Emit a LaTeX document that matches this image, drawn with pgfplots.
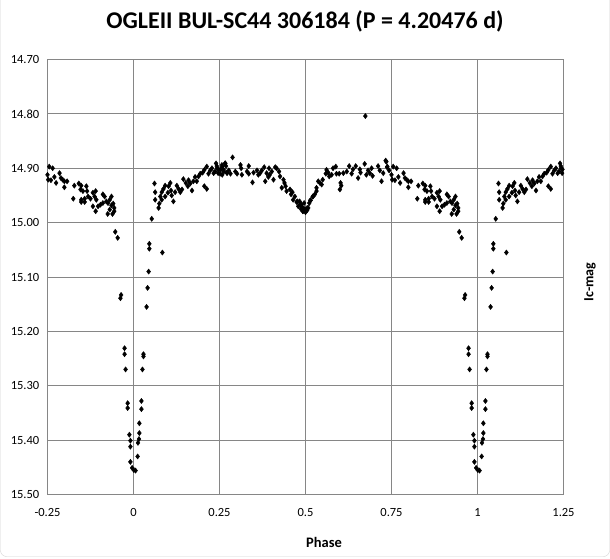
\documentclass[border=0pt]{standalone}
\usepackage{fontspec}
\setmainfont{Carlito}
\usepackage{pgfplots}
\pgfplotsset{compat=1.18}
\usepackage{pgfplotstable}
\definecolor{gridgray}{HTML}{868686}
\pgfplotstableread{
p m
0.001 15.455
0.006 15.456
0.012 15.430
0.013 15.405
0.016 15.398
0.017 15.387
0.017 15.369
0.023 15.343
0.023 15.328
0.026 15.270
0.029 15.242
0.029 15.246
0.038 15.155
0.041 15.120
0.044 15.090
0.046 15.048
0.046 15.039
0.084 15.055
0.053 14.993
0.061 14.928
0.063 14.944
0.063 14.958
0.073 14.973
0.075 14.965
0.078 14.952
0.082 14.944
0.082 14.958
0.087 14.938
0.092 14.952
0.092 14.932
0.100 14.945
0.102 14.933
0.107 14.927
0.109 14.941
0.111 14.950
0.116 14.961
0.121 14.944
0.126 14.932
0.131 14.938
0.136 14.944
0.141 14.939
0.145 14.920
0.152 14.927
0.158 14.933
0.160 14.922
0.170 14.941
0.165 14.928
0.174 14.924
0.179 14.916
0.184 14.924
0.189 14.915
0.194 14.910
0.201 14.908
0.206 14.933
0.213 14.938
0.206 14.903
0.213 14.897
0.218 14.910
0.223 14.904
0.228 14.900
0.233 14.909
0.237 14.906
0.242 14.896
0.247 14.902
0.252 14.910
0.257 14.894
0.262 14.903
0.266 14.891
0.271 14.908
0.240 14.891
0.243 14.900
0.246 14.909
0.253 14.903
0.258 14.897
0.258 14.912
0.263 14.906
0.267 14.891
0.269 14.896
0.272 14.909
0.277 14.904
0.282 14.910
0.288 14.880
0.296 14.906
0.301 14.910
0.311 14.894
0.313 14.900
0.315 14.912
0.330 14.906
0.335 14.896
0.335 14.910
0.346 14.926
0.349 14.908
0.359 14.904
0.363 14.912
0.368 14.909
0.373 14.904
0.380 14.898
0.383 14.924
0.387 14.909
0.392 14.916
0.394 14.900
0.396 14.912
0.402 14.906
0.407 14.921
0.412 14.898
0.416 14.900
0.423 14.906
0.426 14.915
0.431 14.936
0.436 14.921
0.439 14.927
0.442 14.933
0.445 14.942
0.455 14.939
0.458 14.948
0.462 14.944
0.464 14.958
0.469 14.952
0.474 14.962
0.477 14.961
0.479 14.970
0.484 14.967
0.487 14.975
0.490 14.971
0.493 14.979
0.498 14.975
0.500 14.981
0.503 14.977
0.496 14.964
0.505 14.973
0.515 14.959
0.522 14.952
0.483 14.961
0.488 14.967
0.495 14.975
0.492 14.979
0.505 14.977
0.508 14.973
0.511 14.964
0.514 14.959
0.521 14.952
0.527 14.948
0.532 14.936
0.532 14.942
0.537 14.924
0.542 14.927
0.547 14.930
0.550 14.921
0.559 14.910
0.561 14.903
0.566 14.908
0.569 14.915
0.576 14.912
0.580 14.900
0.588 14.897
0.590 14.910
0.598 14.910
0.600 14.939
0.604 14.932
0.602 14.927
0.610 14.909
0.620 14.906
0.627 14.896
0.634 14.910
0.638 14.902
0.646 14.896
0.653 14.918
0.658 14.902
0.660 14.908
0.672 14.892
0.674 14.804
0.677 14.912
0.682 14.904
0.687 14.909
0.692 14.900
0.695 14.914
0.711 14.896
0.716 14.904
0.721 14.924
0.726 14.909
0.733 14.886
0.737 14.898
0.743 14.904
0.735 14.888
0.738 14.897
0.755 14.897
0.765 14.900
0.750 14.912
0.752 14.921
0.760 14.922
0.775 14.927
0.770 14.916
0.785 14.909
0.789 14.918
0.794 14.921
0.799 14.924
0.799 14.935
0.807 14.924
0.828 14.932
0.841 14.928
0.848 14.932
0.846 14.939
0.853 14.942
0.863 14.933
0.865 14.942
0.825 14.956
0.848 14.958
0.858 14.956
0.848 14.962
0.858 14.962
0.868 14.952
0.875 14.956
0.882 14.945
0.890 14.942
0.887 14.952
0.892 14.958
0.882 14.970
0.890 14.979
0.897 14.970
0.904 14.967
0.911 14.948
0.916 14.952
0.911 14.964
0.921 14.961
0.926 14.964
0.931 14.958
0.936 14.952
0.936 14.968
0.941 14.965
0.944 14.973
0.931 14.976
0.925 14.984
0.939 14.984
0.944 14.979
0.947 15.017
0.954 15.028
0.964 15.133
0.962 15.139
0.974 15.231
0.974 15.242
0.977 15.270
0.983 15.332
0.983 15.341
0.988 15.390
0.991 15.401
0.991 15.412
0.991 15.440
0.996 15.451
}\lc
\begin{document}
\begin{tikzpicture}[x=1pt,y=1pt]
\path[use as bounding box] (0,0) rectangle (610,559);
\draw[gray!35, rounded corners=6pt] (0.5,575) -- (0.5,2.5) -- (609.5,2.5) -- (609.5,575);
\begin{axis}[
  at={(47.5pt,64.5pt)}, anchor=south west,
  scale only axis, width=516pt, height=435pt,
  xmin=-0.25, xmax=1.25, ymin=14.7, ymax=15.5, y dir=reverse,
  xtick={-0.25,0,0.25,0.5,0.75,1,1.25},
  xticklabels={-0.25,0,0.25,0.5,0.75,1,1.25},
  ytick={14.7,14.8,14.9,15.0,15.1,15.2,15.3,15.4,15.5},
  yticklabels={14.70,14.80,14.90,15.00,15.10,15.20,15.30,15.40,15.50},
  grid=major, grid style={draw=gridgray, line width=0.8pt},
  axis line style={draw=gridgray, line width=0.8pt},
  major tick length=0pt,
  ticklabel style={font=\fontsize{12.5}{14}\selectfont, inner sep=0pt},
  yticklabel style={anchor=east, xshift=-8pt},
  xticklabel style={anchor=north, yshift=-14pt},
  restrict x to domain=-0.25:1.25,
]
\addplot[only marks, mark=diamond*, mark size=2.6pt, black] table[x=p, y=m]{\lc};
\addplot[only marks, mark=diamond*, mark size=2.6pt, black] table[x expr=\thisrow{p}-1, y=m]{\lc};
\addplot[only marks, mark=diamond*, mark size=2.6pt, black] table[x expr=\thisrow{p}+1, y=m]{\lc};
\end{axis}
\node[font=\bfseries\fontsize{24}{28}\selectfont] at (305,538) {OGLEII BUL-SC44 306184 (P = 4.20476 d)};
\node[font=\bfseries\fontsize{14.5}{17}\selectfont] at (324,17) {Phase};
\node[font=\bfseries\fontsize{14}{17}\selectfont, rotate=90] at (590,277) {Ic-mag};
\end{tikzpicture}
\end{document}
